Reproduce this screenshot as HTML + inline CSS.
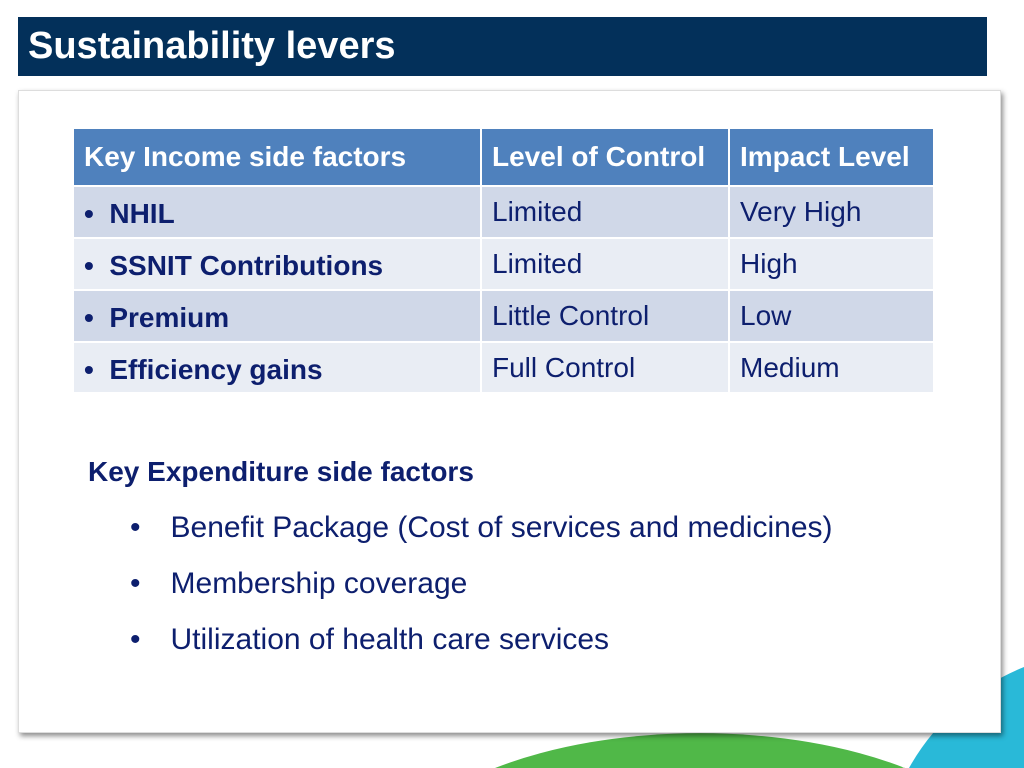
<!DOCTYPE html>
<html><head><meta charset="utf-8"><style>
html,body{margin:0;width:1024px;height:768px;overflow:hidden;background:#fff;}
#wrap{position:relative;width:1024px;height:768px;overflow:hidden;font-family:"Liberation Sans",sans-serif;}
.abs{position:absolute}
td{padding:0 0 0 10px;vertical-align:top;color:#0d1f6e;white-space:nowrap}
</style></head><body>
<div id="wrap">
<svg class="abs" style="left:0;top:0" width="1024" height="768">
<path d="M909,768 A230,230 0 0,1 1024,667 L1024,768 Z" fill="#29b9d8"/>
<path d="M495,768 A320,150 0 0,1 905,768 Z" fill="#50b848"/>
<path d="M880,748 A320,150 0 0,1 905,766" fill="none" stroke="#fff" stroke-width="5"/>
</svg>
<div class="abs" style="left:18px;top:17px;width:969px;height:59px;background:#03305a;color:#fff;font-size:38px;font-weight:bold;line-height:59px;padding-left:10px;box-sizing:border-box">Sustainability levers</div>
<div class="abs" style="left:18px;top:90px;width:983px;height:643px;background:#fff;box-shadow:2px 3px 5px rgba(0,0,0,0.45);border:1px solid #ddd;box-sizing:border-box"></div>
<table class="abs" style="left:74px;top:129px;width:859px;border-collapse:collapse;font-size:28px;table-layout:fixed">
<tr style="background:#4f81bd;height:57px"><td style="width:396px;color:#fff;font-weight:bold;vertical-align:middle;border-right:2px solid #fff;border-bottom:2px solid #fff">Key Income side factors</td><td style="width:236px;color:#fff;font-weight:bold;vertical-align:middle;border-right:2px solid #fff;border-bottom:2px solid #fff">Level of Control</td><td style="color:#fff;font-weight:bold;vertical-align:middle;border-bottom:2px solid #fff">Impact Level</td></tr>
<tr style="background:#d0d8e8;height:52px"><td style="font-weight:bold;padding-top:11px;border-right:2px solid #fff;border-bottom:2px solid #fff">•&nbsp; NHIL</td><td style="padding-top:9px;border-right:2px solid #fff;border-bottom:2px solid #fff">Limited</td><td style="padding-top:9px;border-bottom:2px solid #fff">Very High</td></tr>
<tr style="background:#e9edf4;height:52px"><td style="font-weight:bold;padding-top:11px;border-right:2px solid #fff;border-bottom:2px solid #fff">•&nbsp; SSNIT Contributions</td><td style="padding-top:9px;border-right:2px solid #fff;border-bottom:2px solid #fff">Limited</td><td style="padding-top:9px;border-bottom:2px solid #fff">High</td></tr>
<tr style="background:#d0d8e8;height:52px"><td style="font-weight:bold;padding-top:11px;border-right:2px solid #fff;border-bottom:2px solid #fff">•&nbsp; Premium</td><td style="padding-top:9px;border-right:2px solid #fff;border-bottom:2px solid #fff">Little Control</td><td style="padding-top:9px;border-bottom:2px solid #fff">Low</td></tr>
<tr style="background:#e9edf4;height:50px"><td style="font-weight:bold;padding-top:11px;border-right:2px solid #fff">•&nbsp; Efficiency gains</td><td style="padding-top:9px;border-right:2px solid #fff">Full Control</td><td style="padding-top:9px">Medium</td></tr>
</table>
<div class="abs" style="left:88px;top:456px;font-size:28px;font-weight:bold;color:#0d1f6e">Key Expenditure side factors</div>
<div class="abs" style="left:130px;top:500px;font-size:30px;color:#0d1f6e;line-height:56px;white-space:nowrap">
<div>•<span style="padding-left:30px">Benefit Package (Cost of services and medicines)</span></div>
<div>•<span style="padding-left:30px">Membership coverage</span></div>
<div>•<span style="padding-left:30px">Utilization of health care services</span></div>
</div>
</div>
</body></html>
